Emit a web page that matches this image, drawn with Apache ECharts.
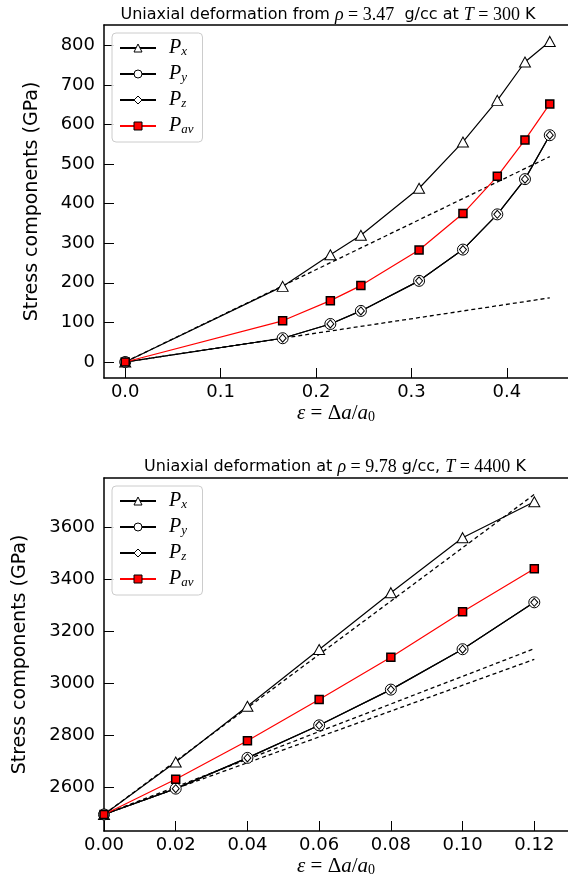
<!DOCTYPE html>
<html><head><meta charset="utf-8">
<script src="https://cdn.jsdelivr.net/npm/echarts@6/dist/echarts.min.js"></script>
<style>html,body{margin:0;padding:0;background:#fff}#c{width:568px;height:882px}</style>
</head><body><div id="c"></div>
<script>
// ---- Top panel: rho = 3.47 g/cc, T = 300 K ----
const strainA = [0, 0.165, 0.215, 0.247, 0.308, 0.354, 0.390, 0.419, 0.445];
const pxA  = [0, 191, 271, 320, 439, 556, 661, 758, 810];
const pyA  = [0, 60, 96, 129, 205, 284, 373, 462, 573];
const pzA  = [0, 60, 96, 129, 205, 284, 373, 462, 573];
const pavA = [0, 104, 155, 193, 283, 375, 469, 561, 652];
const dashStrainA = [0, 0.445];
const dashUpperA = [0, 519];
const dashLowerA = [0, 162];
const xTicksA = [0, 0.1, 0.2, 0.3, 0.4];
const yTicksA = [0, 100, 200, 300, 400, 500, 600, 700, 800];

// ---- Bottom panel: rho = 9.78 g/cc, T = 4400 K ----
const strainB = [0, 0.02, 0.04, 0.06, 0.08, 0.10, 0.12];
const pxB  = [2497, 2698, 2912, 3130, 3348, 3559, 3697];
const pyB  = [2497, 2596, 2714, 2839, 2976, 3131, 3311];
const pzB  = [2497, 2596, 2714, 2839, 2976, 3131, 3311];
const pavB = [2497, 2632, 2780, 2938, 3100, 3275, 3440];
const dashStrainB = [0, 0.12];
const dashUpperB = [2497, 3725];
const dashMidB = [2497, 3133];
const dashLowB = [2497, 3092];
const xTicksB = [0, 0.02, 0.04, 0.06, 0.08, 0.10, 0.12];
const yTicksB = [2600, 2800, 3000, 3200, 3400, 3600];

const seriesNames = ['Px', 'Py', 'Pz', 'Pav'];
const subs = {Px: 'x', Py: 'y', Pz: 'z', Pav: 'av'};

const zip = (xs, ys) => xs.map((x, i) => [x, ys[i]]);
const SANS = 'DejaVu Sans';
const SERIF = 'Liberation Serif';

function xAxisMain(grid, min, max, ticks, dec) {
  return {
    gridIndex: grid, type: 'value', position: 'bottom', min: min, max: max,
    axisLine: {onZero: false, lineStyle: {color: '#000', width: 1.5}},
    axisTick: {inside: true, length: 10, customValues: ticks, lineStyle: {color: '#000', width: 1}},
    axisLabel: {customValues: ticks, formatter: v => Number(v).toFixed(dec), fontSize: 18, color: '#000', fontFamily: SANS, margin: 5},
    splitLine: {show: false},
    name: '{i|ε}{n| = Δ}{i|a}{n|/}{i|a}{s|0}',
    nameLocation: 'middle', nameGap: 24,
    nameTextStyle: {
      rich: {
        i: {fontFamily: SERIF, fontStyle: 'italic', fontSize: 21, color: '#000'},
        n: {fontFamily: SERIF, fontSize: 21, color: '#000'},
        s: {fontFamily: SERIF, fontSize: 14, color: '#000', verticalAlign: 'bottom', padding: [8, 0, 0, 0]}
      }
    }
  };
}
function xAxisTop(grid, min, max) {
  return {
    gridIndex: grid, type: 'value', position: 'top', min: min, max: max,
    axisLine: {onZero: false, lineStyle: {color: '#000', width: 1.5}},
    axisTick: {show: false}, axisLabel: {show: false}, splitLine: {show: false}
  };
}
function yAxisMain(grid, min, max, ticks, gap) {
  return {
    gridIndex: grid, type: 'value', min: min, max: max,
    axisLine: {show: true, onZero: false, lineStyle: {color: '#000', width: 1.5}},
    axisTick: {show: true, inside: true, length: 10, customValues: ticks, lineStyle: {color: '#000', width: 1}},
    axisLabel: {customValues: ticks, formatter: v => String(Math.round(v)), fontSize: 18, color: '#000', fontFamily: SANS, margin: 9},
    splitLine: {show: false},
    name: 'Stress components (GPa)', nameLocation: 'middle', nameGap: gap,
    nameTextStyle: {fontFamily: SANS, fontSize: 19, color: '#000'}
  };
}

function dataSeries(xi, yi, xs, px, py, pz, pav) {
  const base = {type: 'line', xAxisIndex: xi, yAxisIndex: yi, showSymbol: true, animation: false, z: 3};
  return [
    Object.assign({}, base, {name: 'Px', data: zip(xs, px), symbol: 'triangle', symbolSize: [11, 10],
      lineStyle: {color: '#000', width: 1.2}, itemStyle: {color: '#fff', borderColor: '#000', borderWidth: 1}}),
    Object.assign({}, base, {name: 'Py', data: zip(xs, py), symbol: 'circle', symbolSize: 11,
      lineStyle: {color: '#000', width: 1.2}, itemStyle: {color: '#fff', borderColor: '#000', borderWidth: 1}}),
    Object.assign({}, base, {name: 'Pz', data: zip(xs, pz), symbol: 'diamond', symbolSize: [7, 8],
      lineStyle: {color: '#000', width: 1.2}, itemStyle: {color: '#fff', borderColor: '#000', borderWidth: 1}}),
    Object.assign({}, base, {name: 'Pav', data: zip(xs, pav), symbol: 'rect', symbolSize: 8, z: 4,
      lineStyle: {color: '#ff0000', width: 1.2}, itemStyle: {color: '#ff0000', borderColor: '#000', borderWidth: 1.5}})
  ];
}
function dashSeries(xi, yi, xs, ys) {
  return {type: 'line', xAxisIndex: xi, yAxisIndex: yi, data: zip(xs, ys), symbol: 'none', silent: true,
    animation: false, z: 2, lineStyle: {color: '#000', width: 1.3, type: [4, 3]}};
}

function legendCfg(top) {
  return {
    orient: 'vertical', left: 112, top: top, data: seriesNames,
    itemWidth: 36, itemHeight: 10, itemGap: 6,
    padding: [5, 9, 6, 7],
    borderColor: '#cccccc', borderWidth: 1, borderRadius: 4, backgroundColor: 'rgba(255,255,255,0.85)',
    selectedMode: false,
    itemStyle: {borderWidth: 1},
    formatter: n => '{p|P}{s|' + subs[n] + '}',
    textStyle: {
      rich: {
        p: {fontFamily: SERIF, fontStyle: 'italic', fontSize: 20, color: '#000', padding: [0, 0, 0, 8], lineHeight: 20},
        s: {fontFamily: SERIF, fontStyle: 'italic', fontSize: 13, color: '#000', verticalAlign: 'bottom', padding: [7, 0, 0, 0]}
      }
    }
  };
}

const titleRich = {
  n: {fontFamily: SANS, fontSize: 16, fontWeight: 'normal', color: '#000'},
  m: {fontFamily: SERIF, fontStyle: 'italic', fontWeight: 'normal', fontSize: 18, color: '#000'},
  r: {fontFamily: SERIF, fontWeight: 'normal', fontSize: 18, color: '#000'}
};

const option = {
  backgroundColor: '#fff',
  animation: false,
  title: [
    {text: '{n|Uniaxial deformation from }{m|ρ}{r| = 3.47}{n|  g/cc at }{m|T}{r| = 300}{n| K}',
     left: 323, top: 1, textAlign: 'center', textStyle: {fontWeight: 'normal', rich: titleRich}},
    {text: '{n|Uniaxial deformation at }{m|ρ}{r| = 9.78}{n| g/cc, }{m|T}{r| = 4400}{n| K}',
     left: 330, top: 453, textAlign: 'center', textStyle: {fontWeight: 'normal', rich: titleRich}}
  ],
  legend: [legendCfg(33), legendCfg(486)],
  grid: [
    {left: 104, right: 0, top: 25, height: 353},
    {left: 104, right: 0, top: 478, height: 353}
  ],
  xAxis: [
    xAxisMain(0, -0.02225, 0.4641, xTicksA, 1),
    xAxisTop(0, -0.02225, 0.4641),
    xAxisMain(1, 0, 0.1294, xTicksB, 2),
    xAxisTop(1, 0, 0.1294)
  ],
  yAxis: [
    yAxisMain(0, -40.5, 851.5, yTicksA, 62),
    yAxisMain(1, 2433.5, 3788, yTicksB, 74)
  ],
  series: [
    dashSeries(0, 0, dashStrainA, dashUpperA),
    dashSeries(0, 0, dashStrainA, dashLowerA),
    ...dataSeries(0, 0, strainA, pxA, pyA, pzA, pavA),
    dashSeries(2, 1, dashStrainB, dashUpperB),
    dashSeries(2, 1, dashStrainB, dashMidB),
    dashSeries(2, 1, dashStrainB, dashLowB),
    ...dataSeries(2, 1, strainB, pxB, pyB, pzB, pavB)
  ]
};
const chart = echarts.init(document.getElementById('c'), null, {renderer: 'canvas'});
chart.setOption(option);
</script>
</body></html>
